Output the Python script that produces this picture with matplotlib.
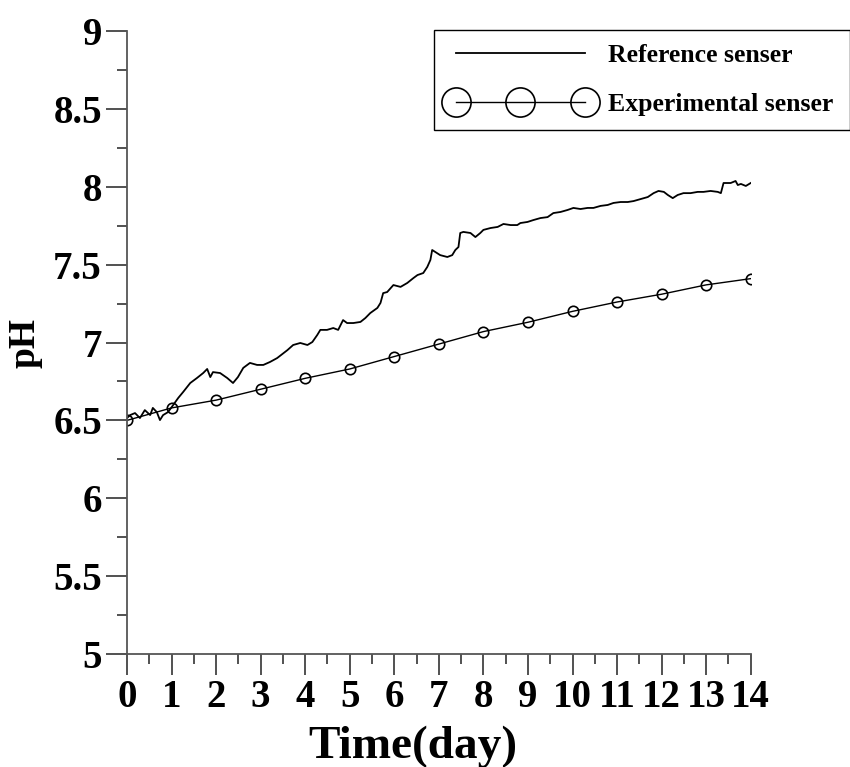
import numpy as np
import matplotlib.pyplot as plt

plt.rcParams['font.family'] = ['Liberation Serif', 'DejaVu Serif']
plt.rcParams['font.weight'] = 'bold'

# reference sensor trace (day, pH)
ref_day = [0.00, 0.07, 0.18, 0.29, 0.40, 0.52, 0.58, 0.67, 0.74, 0.81, 0.92, 0.99,
           1.15, 1.26, 1.42, 1.57, 1.71, 1.80, 1.87, 1.93, 2.09, 2.25, 2.38, 2.49,
           2.61, 2.76, 2.92, 3.06, 3.21, 3.37, 3.60, 3.73, 3.89, 4.05, 4.16, 4.27,
           4.34, 4.49, 4.63, 4.74, 4.85, 4.94, 5.08, 5.24, 5.35, 5.46, 5.62, 5.69,
           5.75, 5.84, 5.98, 6.14, 6.29, 6.43, 6.52, 6.65, 6.74, 6.81, 6.85, 7.03,
           7.19, 7.30, 7.37, 7.44, 7.48, 7.55, 7.71, 7.82, 7.93, 8.00, 8.16, 8.32,
           8.45, 8.61, 8.76, 8.83, 8.99, 9.12, 9.28, 9.44, 9.57, 9.73, 9.89, 10.02,
           10.18, 10.34, 10.47, 10.63, 10.79, 10.92, 11.08, 11.24, 11.37, 11.53, 11.69, 11.82,
           11.93, 12.05, 12.14, 12.25, 12.36, 12.49, 12.65, 12.81, 12.94, 13.10, 13.26, 13.33,
           13.39, 13.55, 13.66, 13.71, 13.78, 13.89, 14.00]
ref_ph = [6.515, 6.534, 6.547, 6.515, 6.566, 6.534, 6.580, 6.553, 6.502, 6.534, 6.553, 6.580,
          6.644, 6.682, 6.740, 6.772, 6.804, 6.830, 6.778, 6.810, 6.804, 6.772, 6.740, 6.778,
          6.837, 6.869, 6.856, 6.856, 6.875, 6.900, 6.951, 6.984, 6.997, 6.984, 7.003, 7.048,
          7.081, 7.081, 7.093, 7.081, 7.144, 7.125, 7.125, 7.132, 7.157, 7.189, 7.222, 7.254,
          7.317, 7.324, 7.369, 7.357, 7.382, 7.414, 7.433, 7.446, 7.485, 7.530, 7.594, 7.561,
          7.549, 7.561, 7.594, 7.613, 7.703, 7.710, 7.703, 7.677, 7.703, 7.723, 7.735, 7.742,
          7.761, 7.754, 7.754, 7.767, 7.774, 7.786, 7.799, 7.805, 7.831, 7.838, 7.851, 7.864,
          7.857, 7.864, 7.864, 7.877, 7.883, 7.896, 7.902, 7.902, 7.908, 7.921, 7.934, 7.959,
          7.973, 7.967, 7.947, 7.927, 7.947, 7.959, 7.959, 7.967, 7.967, 7.973, 7.967, 7.959,
          8.024, 8.024, 8.037, 8.011, 8.018, 8.005, 8.024]

# experimental sensor, one reading per day
exp_day = list(range(15))
exp_ph = [6.50, 6.58, 6.63, 6.70, 6.77, 6.83, 6.91, 6.99, 7.07, 7.13, 7.20, 7.26, 7.31, 7.37, 7.41]

fig = plt.figure(figsize=(8.5, 7.67), dpi=100)
ax = fig.add_axes([0.1494, 0.1473, 0.7338, 0.8123])

ax.plot(ref_day, ref_ph, color='black', lw=1.3, label='Reference senser')
ax.plot(exp_day, exp_ph, color='black', lw=1.0, marker='o', ms=7.5,
        mfc='none', mec='black', mew=1.2, label='Experimental senser')

ax.set_xlim(0, 14)
ax.set_ylim(5, 9)
ax.set_xticks(range(15))
ax.set_xticks(np.arange(0.5, 14, 1), minor=True)
ax.set_yticks([5, 5.5, 6, 6.5, 7, 7.5, 8, 8.5, 9])
ax.set_yticklabels(['5', '5.5', '6', '6.5', '7', '7.5', '8', '8.5', '9'])
ax.set_yticks(np.arange(5.25, 9, 0.5), minor=True)

for s in ['top', 'right']:
    ax.spines[s].set_visible(False)
for s in ['left', 'bottom']:
    ax.spines[s].set_color('#555555')
    ax.spines[s].set_linewidth(1.3)

ax.tick_params(which='major', direction='out', length=15, width=1.2, color='#333333',
               labelsize=28, pad=3)
ax.tick_params(which='minor', direction='out', length=7.5, width=1.2, color='#333333')

ax.set_xlabel('Time(day)', fontsize=34, fontweight='bold')
ax.xaxis.set_label_coords(0.459, -0.115)
ax.set_ylabel('pH', fontsize=27, fontweight='bold', labelpad=8)

leg = ax.legend(loc='upper left', bbox_to_anchor=(0.511, 0.833, 0.489, 0.128),
                bbox_transform=fig.transFigure, mode='expand', borderaxespad=0,
                fontsize=18.5, numpoints=3, markerscale=2.8, handlelength=5.6,
                handletextpad=0.6, labelspacing=1.0, borderpad=0.55, fancybox=False,
                edgecolor='black', framealpha=1)
leg.get_frame().set_linewidth(1.0)

fig.savefig('out.png', dpi=100)
